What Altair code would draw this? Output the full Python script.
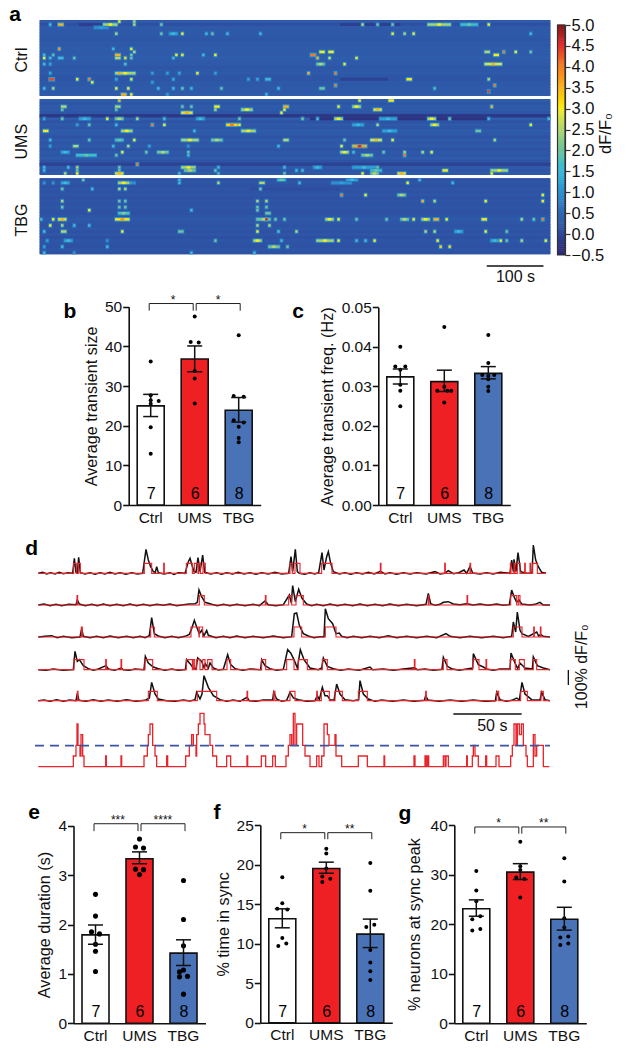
import altair as alt
import pandas as pd

FONT = "Liberation Sans"
INK = "#111111"
GROUPS = ["Ctrl", "UMS", "TBG"]
BAR_COLORS = ["#ffffff", "#ee2024", "#4a72b6"]
COUNTS = [7, 6, 8]

# ---- panel a: sparse transients (column, span, row, dF/F0)
ctrl_spots = [(26,1,0,3),(31,1,0,2.5),(3,1,1,1.5),(6,2,1,3.5),(21,5,1,3),(31,1,1,2.5),(40,1,1,2),(107,1,1,2.5),(112,1,1,2),(117,1,1,2),(129,8,1,3),(140,6,1,2),(149,1,1,3),
 (18,5,2,1.2),(25,1,4,2.5),(40,1,4,2),(43,3,4,1.5),(47,1,4,3),(55,1,4,1.5),(57,1,4,2),(62,1,4,1.5),(73,1,4,1.5),(117,1,4,3),(121,1,4,2.5),(124,1,4,3),(163,1,4,1.5),
 (6,1,9,3.8),(24,1,9,1.5),(30,1,9,3),(31,1,10,2.5),(93,2,10,3),(96,2,10,3),(148,2,10,2.5),(154,1,10,4),(158,1,10,3),(163,1,10,2),(1,1,11,1.5),(4,1,11,1.8),(25,2,11,3.5),(30,1,11,2),(45,1,11,3),(47,1,11,3),(54,1,11,1.5),(58,1,11,3),(90,2,11,4),(151,2,11,3),
 (1,1,12,3),(3,1,12,1.5),(6,2,12,1.5),(11,1,12,2),(25,2,12,2.5),(28,1,12,3.2),(30,1,12,2),(44,1,12,1.5),(92,1,12,3.5),(96,1,12,2.7),(105,1,12,3),(1,1,14,1.5),(3,1,14,1.3),(28,1,14,1.8),(92,3,14,2.5),(101,1,14,3),(148,6,14,3.5),
 (3,1,17,1.3),(25,7,17,3),(26,1,17,3.6),(37,1,17,1.2),(42,1,17,1.2),(46,1,17,1.3),(52,1,17,3),(58,1,17,1.2),(89,1,17,3.5),(98,1,17,4),(3,2,19,4.3),(12,1,19,3),(16,1,19,4),(25,1,19,1.3),(30,1,19,2.8),(44,1,19,1.3),(69,1,19,1.2),(72,1,19,1.3),(75,2,19,1.5),(122,2,19,3),(149,1,19,2.5),
 (17,1,20,3),(37,1,20,1.2),(98,1,21,4),(151,1,21,4),(1,1,22,1.5),(4,1,22,2.5),(25,1,22,3),(29,1,22,3),(39,1,22,1.5),(44,1,22,1.5),(47,1,22,2),(50,1,22,1.5),(60,1,22,2),(79,1,22,1.5),(93,2,22,2),(131,1,22,1.8),(149,1,23,4.4),(27,2,24,3.5),(30,1,24,3),(42,1,24,1.2),(75,1,24,1.5)]
ums_spots = [(26,1,0,3.5),(106,1,0,3),(116,2,0,3),(7,2,2,2.5),(25,2,2,2.5),(47,1,2,2),(50,1,2,2),(58,2,2,3),(81,2,2,3.5),(99,1,2,3),(104,3,2,3),(111,3,3,3.5),(150,1,2,3.5),
 (7,1,3,2),(25,1,3,2),(58,1,3,2.5),(67,4,3,3),(81,1,3,3),(47,4,4,3.5),(80,1,4,3),(1,1,6,1.2),(7,1,6,2),(13,4,6,1.5),(22,1,6,3),(25,3,6,2.5),(32,1,6,2.5),(41,1,6,1.7),(52,3,6,1.5),(66,1,6,2),(87,1,6,2),(92,1,6,1.5),(98,3,6,3),(113,6,6,1.5),(129,3,6,3),(136,1,6,2),(149,1,6,1.5),(169,1,6,1.5),
 (12,1,8,1.2),(16,1,8,2),(25,1,8,1.5),(37,1,8,4),(41,1,8,3),(62,4,8,4),(66,1,8,3),(104,4,8,1.5),(112,1,8,2.5),(130,3,8,3),(163,1,8,3),(1,2,10,3),(27,4,10,3),(51,1,10,1.5),(67,5,10,3),(114,5,10,1.5),(145,2,10,2),
 (3,1,13,1.5),(16,1,13,2),(25,3,13,2),(31,1,13,3),(47,6,13,3),(57,4,13,2.5),(81,2,13,2.5),(101,1,13,2),(110,4,13,3.5),(117,1,13,3),(151,1,13,2.5),(3,1,15,1.2),(11,2,15,2.5),(24,1,15,1.5),(29,1,15,2.5),(36,1,15,1.2),(49,1,15,1),(79,1,15,1.5),(100,1,15,3),(104,5,15,4.5),
 (7,3,17,1.5),(27,1,17,3),(35,1,17,2),(39,4,17,2.5),(49,1,17,2),(100,3,17,3),(104,1,17,1.5),(114,1,17,2),(121,1,17,2.5),(127,1,17,2.5),(130,1,17,3),(12,7,18,2),(25,1,18,2),(49,1,18,1.5),(107,4,18,2.5),(121,1,18,4),(32,1,21,4),
 (1,1,22,1.5),(9,1,22,1.5),(12,1,22,2.5),(26,1,22,2),(47,5,22,3),(59,1,22,1.5),(81,1,22,1.5),(91,3,22,1.5),(104,8,22,1.5),(112,1,22,2),(1,1,23,1.5),(12,1,23,2),(26,1,23,2),(48,4,23,2.5),(58,1,23,2),(85,1,23,1.5),(87,1,23,1.5),(110,4,23,2),(134,2,23,3),(150,6,23,3),
 (8,1,24,2.5),(12,1,24,3),(25,3,24,3.5),(46,1,24,1.5),(59,1,24,1.5),(81,1,24,2),(107,1,24,3),(110,3,24,2.5),(119,3,24,3.5),(150,1,24,3)]
tbg_spots = [(14,1,0,2),(46,1,0,1.5),(79,3,0,2),(102,4,0,1.5),(126,1,0,1.5),(1,1,1,1),(4,1,1,1),(7,3,1,1.5),(26,4,1,3),(30,1,1,1.2),(31,1,1,1),(46,1,1,1.5),(59,1,1,2.5),(73,2,1,2.5),(86,1,1,1.5),(97,7,1,1.2),(122,1,1,3),(137,1,1,1.5),
 (7,1,3,2),(17,1,3,1.5),(26,1,3,2.5),(28,1,3,2.5),(73,1,3,2),(100,1,5,4),(108,1,5,3),(119,3,5,2.5),(167,1,5,3),(7,1,7,2.5),(26,1,7,2),(28,1,7,2),(72,1,7,2.5),(75,1,7,2.5),(127,1,7,3.5),(131,1,7,2.5),(148,1,7,3),(167,1,7,3),
 (7,1,9,2),(26,1,9,2),(28,1,9,2),(72,1,9,2),(75,1,9,2),(16,1,10,3),(50,1,10,1.5),(72,1,10,2),(26,4,11,2.2),(75,2,11,2),(0,1,13,1.5),(4,1,13,3),(6,3,13,3.5),(25,5,13,3.8),(72,5,13,2.5),(75,1,13,4.6),(78,1,13,2),(81,1,13,2),(95,3,13,3),(99,1,13,3),(105,1,13,2),(115,1,13,2),(120,3,13,2.5),(124,1,13,3),(127,3,13,3),(131,2,13,3.5),(135,1,13,3),(147,2,13,3),(160,1,13,2.5),(164,1,13,2),(167,1,13,4),
 (3,1,15,3),(7,1,15,2.5),(11,1,15,1.5),(16,1,15,1.5),(72,1,15,2.5),(76,1,15,2.5),(1,1,17,1.5),(7,2,17,2.5),(27,1,17,3),(46,2,17,2),(72,1,17,3),(79,1,17,1.8),(85,1,17,2.5),(128,1,17,2.5),(131,1,17,2.5),(138,3,17,1.5),(148,1,17,3),(155,1,17,2),
 (2,1,20,1.2),(8,3,20,1.5),(22,1,20,1),(58,1,20,2),(71,3,20,3),(80,1,20,1.5),(92,6,20,3),(99,1,20,3),(105,1,20,1.5),(108,1,20,1.5),(111,1,20,3),(132,1,20,3),(150,3,20,1.5),(153,1,20,3),(155,1,20,2),(160,1,20,2.5),(168,1,20,3),
 (1,1,22,1.2),(7,1,22,1.5),(22,1,22,1.5),(76,4,22,2.5),(82,1,22,2),(133,1,22,3.2),(136,1,22,3.2),(1,1,24,1.5),(11,1,24,1),(50,1,24,1.5),(71,1,24,1.5)]
ctrl_rows = [.25,.1,.25,.22,.25,.22,.2,.25,.22,.28,.25,.25,.3,.25,.25,.2,.22,.25,.2,.18,.22,.22,.25,.22,.28]
ums_rows = [.28,.2,.25,.22,.2,-.1,.3,.15,.25,.2,.28,.22,.15,.25,.18,.25,.15,.22,.2,.28,.15,.0,.25,.18,.22]
tbg_rows = [.15,.2,.12,.18,.15,.2,.12,.18,.15,.2,.15,.12,.2,.22,.18,.15,.2,.12,.18,.1,.18,.15,.12,.2,.15]
ctrl_dark = [(13,10,1,-0.15),(100,20,1,-0.15),(100,16,19,-0.1)]
ums_dark = [(0,170,5,-0.25),(0,170,21,-0.1),(90,60,6,-0.3)]
tbg_dark = [(70,30,3,0.05)]
HEAT_BASE = 0.2
HEAT_COLS, HEAT_ROWS, HEAT_SECONDS = 170, 25, 900

cmap_stops = [-0.5, 0, 0.5, 1.0, 1.5, 2.0, 2.5, 3.0, 3.5, 4.0, 4.5, 5.0]
cmap_colors = ["#29246f", "#2f4a9d", "#2f69b4", "#2f92d2", "#3fb9d8", "#72c29a", "#b5d56a", "#f9ec15", "#fbb017", "#f4791f", "#e0262a", "#7c1a1a"]
cbar_levels = [round(-0.5 + 0.05 * i, 2) for i in range(110)]
cbar_ticks = [-0.5, 0, 0.5, 1, 1.5, 2, 2.5, 3, 3.5, 4, 4.5, 5]

# ---- panels b, c, e, f, g
b_mean, b_up, b_low = [25, 36.8, 23.9], [27.9, 40.1, 27.1], [22.3, 33.6, 20.9]
b_pts = [(0,0,36.2),(0,0,27.7),(0,0,26.4),(0,8,26.2),(0,0,25.5),(0,0,19.6),(0,0,12.9),
         (1,0,47.5),(1,-4,41.1),(1,4,41),(1,0,33.8),(1,0,31.9),(1,0,25.6),
         (2,0,42.8),(2,-5,27.5),(2,5,27.3),(2,-5,21.4),(2,5,20.8),(2,0,19.7),(2,0,16.9),(2,0,15.8)]
c_mean, c_up, c_low = [0.0324, 0.0312, 0.0333], [0.0344, 0.0341, 0.035], [0.0306, 0.0287, 0.0319]
c_pts = [(0,0,.04),(0,-5,.035),(0,5,.035),(0,0,.0342),(0,0,.0304),(0,0,.0289),(0,0,.025),
         (1,0,.045),(1,0,.0299),(1,-7,.0289),(1,7,.0289),(1,3,.0289),(1,0,.0259),
         (2,0,.043),(2,0,.0359),(2,-6,.0329),(2,0,.0326),(2,6,.0329),(2,0,.0318),(2,0,.0299),(2,0,.0288)]
e_mean, e_up, e_low = [1.79, 3.33, 1.42], [1.99, 3.47, 1.69], [1.6, 3.23, 1.17]
e_pts = [(0,0,2.61),(0,0,2.17),(0,-4,1.85),(0,4,1.81),(0,0,1.6),(0,0,1.46),(0,0,1.05),
         (1,0,3.73),(1,-4,3.57),(1,4,3.55),(1,-4,3.12),(1,4,3.11),(1,0,3.01),
         (2,0,2.89),(2,0,2.1),(2,0,1.57),(2,0,1.08),(2,-4,1.04),(2,4,.95),(2,-4,.94),(2,0,.59)]
f_mean, f_up, f_low = [13.15, 19.5, 11.2], [14.4, 20.3, 13.1], [12, 18.9, 9.5]
f_pts = [(0,0,18.4),(0,0,15.1),(0,-5,14.4),(0,5,14.3),(0,0,10.7),(0,-4,9.7),(0,4,10),
         (1,0,22),(1,0,21.4),(1,0,19.5),(1,-4,18.5),(1,4,18.2),(1,-4,17.8),
         (2,0,20.2),(2,0,16.7),(2,4,12.4),(2,-4,12.1),(2,0,9.2),(2,0,7.6),(2,0,6.5),(2,0,5.4)]
g_mean, g_up, g_low = [23.1, 30.5, 21], [24.9, 32.2, 23.4], [21.6, 29, 18.8]
g_pts = [(0,0,30.7),(0,0,26.8),(0,0,24.6),(0,4,21.6),(0,-4,21),(0,-4,18.7),(0,4,19),
         (1,0,36.6),(1,0,31.7),(1,0,30.9),(1,-4,29.4),(1,4,29.1),(1,0,25.4),
         (2,0,33.3),(2,0,28.6),(2,0,21.2),(2,0,19.3),(2,-4,17.3),(2,4,17.5),(2,4,16.1),(2,-4,15.8)]

# ---- panel d: fluorescence traces in camera frames (frame, height above baseline)
trace1 = [(55,0),(68,3),(80,-2),(92,2),(105,-2),(118,3),(130,-1),(144,2),(158,0),(163,45),(168,3),(172,2),(176,48),(181,2),(195,-2),(210,2),(225,-3),(240,2),(255,-2),(270,3),(285,-2),(300,2),(318,-3),(335,2),(352,-2),(368,0),(378,72),(385,40),(392,20),(400,5),(406,3),(410,20),(415,2),(432,-2),(450,2),(462,-3),(475,2),(495,0),(505,35),(510,45),(516,25),(522,5),(528,3),(534,47),(540,5),(548,55),(554,3),(572,-2),(590,2),(605,-3),(620,2),(638,-2),(655,3),(672,-2),(690,2),(708,-3),(725,2),(745,-2),(765,3),(785,-2),(806,0),(813,50),(818,5),(826,72),(832,5),(838,0),(854,-3),(870,2),(884,-2),(896,2),(906,62),(912,10),(920,50),(925,65),(932,30),(940,5),(958,-2),(975,2),(992,-3),(1010,2),(1028,-2),(1045,3),(1063,-2),(1081,6),(1095,-2),(1110,2),(1130,-3),(1150,2),(1170,-2),(1190,2),(1218,-2),(1245,5),(1260,-2),(1274,0),(1285,8),(1300,-1),(1316,2),(1332,10),(1340,0),(1350,20),(1358,1),(1380,-2),(1400,2),(1420,-2),(1440,3),(1470,0),(1475,40),(1480,5),(1482,42),(1488,5),(1494,62),(1502,5),(1520,0),(1536,0),(1540,85),(1547,40),(1555,20),(1565,3),(1578,0)]
trace2 = [(55,0),(72,3),(90,-2),(108,2),(125,-2),(146,2),(168,1),(172,15),(178,3),(196,-2),(215,2),(232,-2),(250,3),(270,-2),(290,2),(310,-2),(330,3),(350,-2),(370,2),(390,-2),(410,2),(430,-1),(450,3),(470,-2),(490,1),(508,3),(525,4),(532,8),(537,45),(545,25),(555,8),(575,2),(592,-2),(610,2),(630,-2),(650,2),(675,-2),(700,2),(718,-2),(735,12),(745,1),(768,-2),(790,1),(808,30),(814,6),(818,58),(826,10),(836,47),(846,20),(860,3),(875,-2),(890,2),(910,-2),(930,3),(952,-2),(975,2),(998,-2),(1020,3),(1042,-2),(1065,2),(1088,-2),(1110,3),(1135,-2),(1160,2),(1190,-2),(1218,2),(1225,35),(1232,4),(1246,-1),(1260,2),(1270,8),(1285,10),(1300,3),(1320,1),(1340,4),(1360,0),(1380,3),(1405,-1),(1430,3),(1450,-1),(1468,1),(1475,45),(1482,25),(1490,8),(1497,15),(1505,3),(1530,0),(1545,2),(1560,8),(1570,0),(1590,0)]
trace3 = [(55,0),(75,2),(95,4),(112,-2),(130,2),(155,-2),(180,0),(185,25),(190,2),(210,-2),(230,2),(250,-2),(270,3),(295,-2),(320,2),(340,-2),(360,2),(375,-2),(388,4),(395,58),(403,10),(415,3),(435,-2),(455,2),(475,-2),(495,2),(508,8),(515,25),(523,50),(530,30),(538,10),(545,20),(552,4),(560,20),(565,5),(588,-2),(610,2),(630,-2),(650,3),(675,-2),(700,2),(730,-2),(760,3),(790,-2),(815,1),(823,70),(830,72),(838,35),(850,10),(865,3),(882,-2),(900,1),(912,1),(916,85),(925,55),(938,40),(948,10),(958,12),(965,2),(982,-2),(1000,2),(1025,-2),(1050,2),(1078,-2),(1105,4),(1130,-2),(1160,2),(1190,-2),(1220,2),(1250,-2),(1278,10),(1290,2),(1320,-2),(1350,2),(1385,-2),(1420,2),(1450,-2),(1475,2),(1480,45),(1487,15),(1492,75),(1500,20),(1506,10),(1525,2),(1550,15),(1556,3),(1562,8),(1570,2),(1590,0)]
trace4 = [(55,0),(78,-2),(100,2),(130,-2),(160,0),(165,55),(172,25),(178,30),(190,12),(205,3),(220,-2),(235,2),(258,12),(265,2),(284,-2),(303,5),(310,0),(328,-2),(345,2),(372,0),(376,40),(385,20),(400,8),(415,3),(435,-2),(455,2),(475,-2),(496,0),(500,30),(510,18),(520,5),(528,2),(533,35),(545,25),(552,6),(556,18),(565,4),(570,20),(580,5),(595,-1),(610,1),(623,45),(632,15),(645,3),(668,-2),(690,2),(722,0),(725,30),(735,12),(750,3),(770,-2),(790,1),(803,60),(812,50),(822,30),(832,5),(841,60),(852,30),(870,5),(895,0),(905,5),(910,35),(922,10),(940,3),(962,-2),(985,2),(1018,-2),(1050,8),(1058,0),(1090,2),(1120,-2),(1150,2),(1183,6),(1192,0),(1215,2),(1240,-2),(1266,1),(1270,37),(1282,10),(1295,3),(1318,-2),(1340,2),(1358,5),(1360,48),(1375,15),(1390,8),(1400,2),(1420,-2),(1440,2),(1470,2),(1473,50),(1485,20),(1493,3),(1500,20),(1515,5),(1537,2),(1540,38),(1552,12),(1570,5),(1590,0)]
trace5 = [(55,0),(72,2),(90,-2),(110,3),(130,-2),(150,2),(168,0),(172,22),(177,1),(198,-2),(220,3),(242,-2),(265,2),(292,-2),(320,3),(348,-2),(375,1),(388,8),(395,55),(405,20),(415,5),(440,0),(465,-2),(490,2),(510,-1),(525,3),(530,25),(540,5),(546,20),(552,75),(565,40),(580,15),(600,3),(620,-2),(640,2),(660,-2),(681,10),(688,0),(708,-2),(730,2),(758,2),(761,25),(770,5),(785,-2),(800,1),(810,25),(820,8),(835,3),(860,-2),(885,0),(892,15),(898,3),(907,40),(915,15),(922,15),(930,3),(942,1),(950,50),(960,20),(975,3),(1000,0),(1016,3),(1020,60),(1030,20),(1045,5),(1065,-2),(1085,2),(1118,-2),(1150,2),(1182,-2),(1213,1),(1217,15),(1224,2),(1258,-2),(1290,2),(1325,-2),(1360,2),(1395,-2),(1426,0),(1430,25),(1440,3),(1458,-2),(1475,1),(1490,8),(1498,2),(1506,55),(1515,20),(1535,3),(1560,2),(1565,25),(1575,3),(1590,0)]
pulses1 = [(161,169,30),(175,181,30),(373,395,30),(431,433,30),(499,517,30),(523,534,30),(536,541,30),(549,556,30),(810,817,30),(825,840,30),(905,936,30),(1081,1083,30),(1274,1276,30),(1350,1352,30),(1471,1473,30),(1482,1485,30),(1492,1500,30),(1514,1516,30),(1530,1532,30),(1538,1552,30)]
pulses2 = [(171,173,28),(538,553,28),(736,738,28),(806,815,28),(828,850,28),(1225,1227,28),(1341,1343,28),(1472,1490,28),(1495,1500,28)]
pulses3 = [(184,187,30),(392,403,30),(513,537,30),(538,548,30),(822,845,30),(916,948,30),(1480,1506,30),(1541,1543,30),(1561,1563,30)]
pulses4 = [(162,192,30),(257,259,30),(303,305,30),(375,398,30),(499,517,30),(520,524,30),(530,540,30),(548,555,30),(563,576,30),(621,632,30),(725,737,30),(800,822,30),(835,862,30),(907,922,30),(1183,1185,30),(1270,1281,30),(1358,1377,30),(1398,1400,30),(1471,1486,30),(1498,1513,30),(1540,1550,30)]
pulses5 = [(172,174,28),(385,412,28),(532,590,28),(681,683,28),(761,765,28),(810,825,28),(890,892,28),(904,928,28),(945,967,28),(1015,1042,28),(1217,1219,28),(1430,1436,28),(1502,1522,28),(1563,1570,28)]
trace_lift = [635, 540, 444, 346, 253]
sync_counts = [(55,0),(160,1),(168,2),(171,4),(174,2),(180,1),(183,3),(188,1),(192,0),(257,1),(259,0),(303,1),(305,0),(372,1),(382,2),(385,3),(390,4),(398,2),(405,1),(410,0),(440,1),(443,0),(497,1),(508,2),(515,3),(520,2),(528,1),(530,3),(535,4),(540,5),(552,4),(555,3),(570,2),(578,1),(590,0),(620,1),(632,0),(681,1),(683,0),(724,1),(737,0),(758,1),(766,0),(798,1),(805,2),(810,3),(815,2),(820,5),(825,2),(830,4),(848,2),(855,1),(870,0),(890,1),(897,0),(905,1),(912,4),(922,3),(927,2),(945,3),(948,1),(965,0),(1015,1),(1042,0),(1092,1),(1094,0),(1182,1),(1185,0),(1215,1),(1218,0),(1222,1),(1226,0),(1270,1),(1275,0),(1278,1),(1285,0),(1340,1),(1342,0),(1357,1),(1360,2),(1365,1),(1375,0),(1397,1),(1400,0),(1428,1),(1437,0),(1472,1),(1477,2),(1482,4),(1488,2),(1492,4),(1498,3),(1504,4),(1510,2),(1518,1),(1522,0),(1540,3),(1545,1),(1550,2),(1560,2),(1570,0),(1588,0)]
COUNT_LIFT, COUNT_STEP, SYNC_LEVEL = 55, 32, 118

W, H = 610, 1038
layers = []


def ax(px):
    return px - 8


def label(text, x, y, size=16, bold=False, angle=None, color=INK, align="center"):
    kw = dict(angle=angle) if angle is not None else {}
    return alt.Chart(pd.DataFrame({"k": [0]})).mark_text(
        text=text, font=FONT, fontSize=size, fontWeight="bold" if bold else "normal",
        color=color, align=align, baseline="middle", **kw
    ).encode(x=alt.value(ax(x)), y=alt.value(ax(y)))


# ---------- heat maps
heat_x = alt.Scale(domain=[0, HEAT_SECONDS], range=[ax(39.7), ax(550.3)])
heat_color = alt.Scale(domain=cmap_stops, range=cmap_colors)


def heat(spots, dark, rows, top):
    sec = HEAT_SECONDS / HEAT_COLS
    y_scale = alt.Scale(domain=[0, HEAT_ROWS], range=[ax(top), ax(top + 76)])
    # rows overlap slightly so that no seam shows between them
    base = [(0, HEAT_COLS, 0, HEAT_ROWS, HEAT_BASE)]
    base += [(0, HEAT_COLS, r, min(r + 1.4, HEAT_ROWS), v) for r, v in enumerate(rows)]
    for c, s, r, v in dark:
        base.append((c, c + s, r, r + 1, v))
    # a faint rim around each transient, then the cells, softer at the ends of long runs
    for c, s, r, v in spots:
        base.append((max(c - 0.15, 0), min(c + s + 0.15, HEAT_COLS), max(r - 0.25, 0), min(r + 1.25, HEAT_ROWS), 0.4 + v * 0.17))
    for c, s, r, v in spots:
        base.append((c + 0.1, c + s - 0.1, r + 0.1, r + 0.9, v * 0.8 if s >= 3 else v))
        if s >= 3:
            mid = c + s / 2
            base.append((mid - 0.6, mid + 0.6, r + 0.1, r + 0.9, v))
    df = pd.DataFrame(base, columns=["c0", "c1", "r0", "r1", "v"])
    df["t0"], df["t1"] = df.c0 * sec, df.c1 * sec
    df["idx"] = range(len(df))
    return alt.Chart(df).mark_rect(strokeWidth=0).encode(
        x=alt.X("t0:Q", scale=heat_x, axis=None), x2="t1:Q",
        y=alt.Y("r0:Q", scale=y_scale, axis=None), y2="r1:Q",
        color=alt.Color("v:Q", scale=heat_color, legend=None),
        order=alt.Order("idx:Q"),
    )


layers += [heat(ctrl_spots, ctrl_dark, ctrl_rows, 20), heat(ums_spots, ums_dark, ums_rows, 99), heat(tbg_spots, tbg_dark, tbg_rows, 178.3)]
layers += [label("Ctrl", 22, 60, angle=270), label("UMS", 22, 141.7, angle=270), label("TBG", 22, 220, angle=270)]

# colour bar
cb_y = alt.Scale(domain=[-0.5, 5], range=[ax(255), ax(25)])
cb_df = pd.DataFrame({"lo": cbar_levels, "hi": [round(v + 0.06, 2) for v in cbar_levels]})
layers.append(alt.Chart(cb_df).mark_rect(strokeWidth=0).encode(
    x=alt.value(ax(557.5)), x2=alt.value(ax(565)),
    y=alt.Y("lo:Q", scale=cb_y, axis=alt.Axis(
        orient="right", offset=ax(565) - W, values=cbar_ticks, format=".1f", title="dF/F₀",
        titleAngle=270, titleFont=FONT, titleFontSize=16.5, titleFontWeight="normal", titleColor=INK, titlePadding=10, titleY=ax(133),
        labelFont=FONT, labelFontSize=16.5, labelColor=INK, labelPadding=1, tickSize=5, tickWidth=1.2, tickColor="#333333",
        domainColor="#333333", domainWidth=1.2, grid=False, labelOverlap=False, labelFlush=False)),
    y2="hi:Q",
    color=alt.Color("lo:Q", scale=heat_color, legend=None)))
layers.append(alt.Chart(pd.DataFrame({"lo": [-0.5], "hi": [5]})).mark_rect(fillOpacity=0, stroke="#333333", strokeWidth=1.2).encode(
    x=alt.value(ax(557.5)), x2=alt.value(ax(565)),
    y=alt.Y("lo:Q", scale=cb_y, axis=None), y2="hi:Q"))
# 100 s bar
layers.append(alt.Chart(pd.DataFrame({"a": [788], "b": [888]})).mark_rule(color=INK, strokeWidth=1.3).encode(
    x=alt.X("a:Q", scale=heat_x, axis=None), x2="b:Q", y=alt.value(ax(266))))
layers.append(label("100 s", 515.5, 277))


# ---------- bar panels
def bar_panel(x0, ytop, ybot, ymax, ticks, fmt, title, mean, up, low, pts, brackets, stars, star_y, pt_size, title_pad):
    band = alt.Scale(domain=GROUPS, range=[ax(x0), ax(x0 + 132)], paddingInner=0, paddingOuter=0)
    pos = alt.Scale(domain=[0, 132], range=[ax(x0), ax(x0 + 132)])
    yscale = alt.Scale(domain=[0, ymax], range=[ax(ybot), ax(ytop)], nice=False, zero=True)
    out = []
    bars = pd.DataFrame({"g": GROUPS, "m": mean, "c": BAR_COLORS, "n": COUNTS})
    out.append(alt.Chart(bars).mark_bar(size=27, stroke=INK, strokeWidth=1.6).encode(
        x=alt.X("g:N", scale=band, sort=GROUPS, axis=alt.Axis(
            orient="bottom", offset=ax(ybot) - H, title=None, labelAngle=0, labelFont=FONT, labelFontSize=15.5,
            labelColor=INK, ticks=False, labelPadding=5, domainColor=INK, domainWidth=1.6, grid=False, labelOverlap=False)),
        y=alt.Y("m:Q", scale=yscale, axis=alt.Axis(
            orient="left", offset=-ax(x0), values=ticks, format=fmt, title=title, titleFont=FONT, titleFontSize=16.2,
            titleFontWeight="normal", titleColor=INK, titlePadding=title_pad, labelFont=FONT, labelFontSize=15.5, labelColor=INK,
            tickSize=6, tickWidth=1.6, tickColor=INK, domainColor=INK, domainWidth=1.6, grid=False,
            labelOverlap=False, labelPadding=1, labelFlush=False)),
        fill=alt.Fill("c:N", scale=None)))
    centres = [22, 66, 110]
    pf = pd.DataFrame([(centres[g] + dx, v) for g, dx, v in pts], columns=["p", "v"])
    out.append(alt.Chart(pf).mark_circle(size=pt_size, color="#000000", opacity=1).encode(
        x=alt.X("p:Q", scale=pos, axis=None), y=alt.Y("v:Q", scale=yscale, axis=None)))
    ef = pd.DataFrame({"p": centres, "u": up, "l": low, "a": [c - 7.5 for c in centres], "b": [c + 7.5 for c in centres]})
    out.append(alt.Chart(ef).mark_rule(color=INK, strokeWidth=1.5).encode(
        x=alt.X("p:Q", scale=pos, axis=None), y=alt.Y("l:Q", scale=yscale, axis=None), y2="u:Q"))
    for f in ["u", "l"]:
        out.append(alt.Chart(ef).mark_rule(color=INK, strokeWidth=1.5).encode(
            x=alt.X("a:Q", scale=pos, axis=None), x2="b:Q", y=alt.Y(f + ":Q", scale=yscale, axis=None)))
    nf = pd.DataFrame({"p": [c + 0.5 for c in centres], "n": COUNTS, "z": [0, 0, 0]})
    out.append(alt.Chart(nf).mark_text(font=FONT, fontSize=16, color="#000000", baseline="alphabetic", dy=-6).encode(
        x=alt.X("p:Q", scale=pos, axis=None), y=alt.Y("z:Q", scale=yscale, axis=None), text="n:Q"))
    if brackets:
        lo, hi = brackets
        rows = []
        for k, (a, b) in enumerate([(20.5, 64.5), (67.5, 111.5)]):
            rows += [(k, 0, a, lo), (k, 1, a, hi), (k, 2, b, hi), (k, 3, b, lo)]
        bf = pd.DataFrame(rows, columns=["k", "i", "x", "y"])
        out.append(alt.Chart(bf).mark_line(color="#222222", strokeWidth=1, interpolate="linear").encode(
            x=alt.X("x:Q", scale=pos, axis=None), y=alt.Y("y:Q", scale=yscale, axis=None),
            detail="k:N", order="i:Q"))
        sf = pd.DataFrame({"p": [44.4, 89.4], "s": stars})
        out.append(alt.Chart(sf).mark_text(font=FONT, fontSize=12, color=INK, baseline="middle").encode(
            x=alt.X("p:Q", scale=pos, axis=None), y=alt.value(ax(star_y + 2.5)), text="s:N"))
    return out


layers += bar_panel(128.7, 306.7, 505, 50, [0, 10, 20, 30, 40, 50], "d", "Average transient size", b_mean, b_up, b_low, b_pts, (49, 50.8), ["*", "*"], 297.3, 16, 5)
layers += bar_panel(378.3, 307.3, 505, 0.05, [0, .01, .02, .03, .04, .05], ".2f", "Average transient freq. (Hz)", c_mean, c_up, c_low, c_pts, None, None, 0, 16, 6)
layers += bar_panel(73.5, 825.7, 1023.3, 4, [0, 1, 2, 3, 4], "d", "Average duration (s)", e_mean, e_up, e_low, e_pts, (3.89, 4.04), ["***", "****"], 817, 26, 5)
layers += bar_panel(260.3, 825, 1022.7, 25, [0, 5, 10, 15, 20, 25], "d", "% time in sync", f_mean, f_up, f_low, f_pts, (23.2, 24.03), ["*", "**"], 826.7, 16, 5)
layers += bar_panel(454.3, 825, 1023.3, 40, [0, 10, 20, 30, 40], "d", "% neurons at sync peak", g_mean, g_up, g_low, g_pts, (38.25, 39.6), ["*", "**"], 820.7, 16, 8)

# ---------- traces
tx = alt.Scale(domain=[0, 1590], range=[ax(20), ax(550)])
ty = alt.Scale(domain=[0, 750], range=[ax(785), ax(535)])


def line_layer(rows, color, width, **kw):
    df = pd.DataFrame(rows, columns=["k", "i", "x", "y"])
    return alt.Chart(df).mark_line(color=color, strokeWidth=width, **kw).encode(
        x=alt.X("x:Q", scale=tx, axis=None), y=alt.Y("y:Q", scale=ty, axis=None),
        detail="k:N", order="i:Q")


black, red = [], []
for k, (tr, pl, lift) in enumerate(zip([trace1, trace2, trace3, trace4, trace5],
                                       [pulses1, pulses2, pulses3, pulses4, pulses5], trace_lift)):
    black += [(k, i, x, lift + h) for i, (x, h) in enumerate(tr)]
    verts = [(tr[0][0], 0)]
    for s, e, h in pl:
        verts += [(s, 0), (s, h), (e, h), (e, 0)]
    verts.append((tr[-1][0], 0))
    red += [(k, i, x, lift + h) for i, (x, h) in enumerate(verts)]
layers.append(line_layer(black, "#111111", 1.5))
layers.append(line_layer(red, "#e8242b", 1.1))
steps = [(0, i, x, COUNT_LIFT + COUNT_STEP * n) for i, (x, n) in enumerate(sync_counts)]
layers.append(line_layer(steps, "#e8242b", 1.3, interpolate="step-after"))
layers.append(alt.Chart(pd.DataFrame({"a": [45], "b": [1590], "y": [SYNC_LEVEL]})).mark_rule(
    color="#3a55a5", strokeWidth=1.6, strokeDash=[9, 6]).encode(
    x=alt.X("a:Q", scale=tx, axis=None), x2="b:Q", y=alt.Y("y:Q", scale=ty, axis=None)))
# 50 s and 100 % bars
layers.append(alt.Chart(pd.DataFrame({"a": [1300], "b": [1505], "y": [213]})).mark_rule(color=INK, strokeWidth=1.3).encode(
    x=alt.X("a:Q", scale=tx, axis=None), x2="b:Q", y=alt.Y("y:Q", scale=ty, axis=None)))
layers.append(alt.Chart(pd.DataFrame({"a": [1645], "y": [300], "y2": [345]})).mark_rule(color=INK, strokeWidth=1.3).encode(
    x=alt.X("a:Q", scale=tx, axis=None), y=alt.Y("y:Q", scale=ty, axis=None), y2="y2:Q"))
layers.append(label("50 s", 492.3, 725.7))
layers.append(label("100% dF/F₀", 581.7, 666.7, angle=270))

# ---------- panel letters
for t, x, y in [("a", 15, 15), ("b", 70, 312), ("c", 298, 312), ("d", 31.7, 549), ("e", 34, 813), ("f", 217, 813), ("g", 405, 814)]:
    layers.append(label(t, x, y, size=21, bold=True, color="#000000"))

chart = alt.layer(*layers).resolve_scale(x="independent", y="independent", color="independent", fill="independent").resolve_axis(
    x="independent", y="independent"
).properties(width=W, height=H, padding=0, autosize=alt.AutoSizeParams(type="none"), background="white").configure_view(stroke=None)

chart.save("out.html", embed_options={"renderer": "svg", "actions": False})
